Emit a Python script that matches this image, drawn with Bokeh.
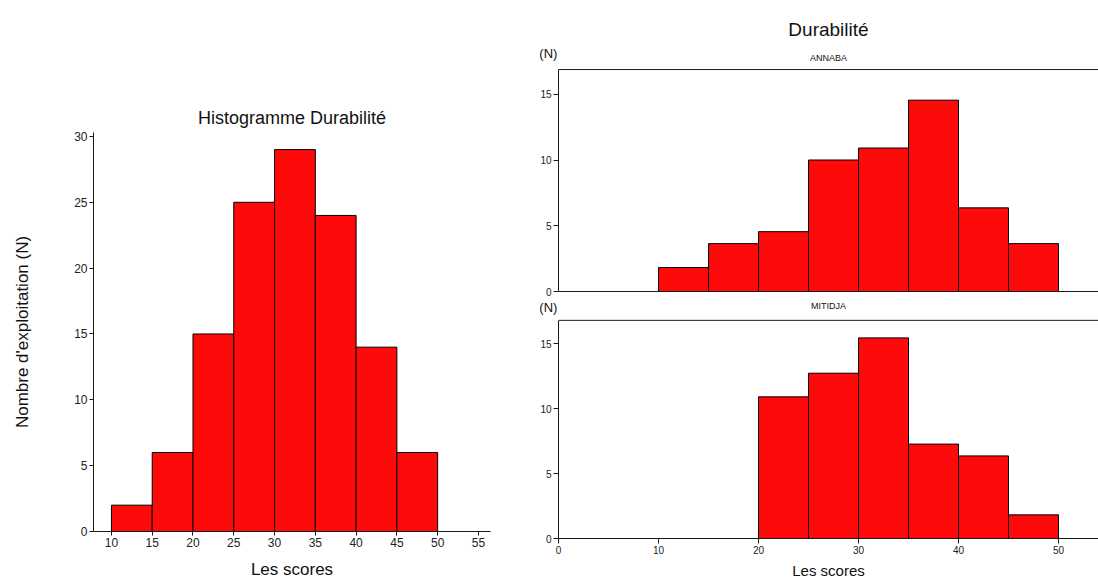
from bokeh.plotting import figure
from bokeh.models import Range1d, FixedTicker, Span, Title, Label, ColumnDataSource
from bokeh.layouts import row, column
from bokeh.embed import file_html
from bokeh.resources import INLINE

# ---- data ----
bin_edges = [10, 15, 20, 25, 30, 35, 40, 45, 50]
total_counts = [2, 6, 15, 25, 29, 24, 14, 6]
annaba_pct = [1.82, 3.64, 4.55, 10.0, 10.91, 14.55, 6.36, 3.64]
mitidja_pct = [0, 0, 10.91, 12.73, 15.45, 7.27, 6.36, 1.82]
left_xticks = [10, 15, 20, 25, 30, 35, 40, 45, 50, 55]
left_yticks = [0, 5, 10, 15, 20, 25, 30]
right_xticks = [0, 10, 20, 30, 40, 50]
right_yticks = [0, 5, 10, 15]

FONT = "Liberation Sans"
RED = "#FF0A0A"
AX = "#1a1a1a"


def bars(p, counts):
    src = ColumnDataSource(dict(left=bin_edges[:-1], right=bin_edges[1:], top=counts,
                                bottom=[0] * len(counts)))
    p.quad(left="left", right="right", top="top", bottom="bottom", source=src,
           fill_color=RED, line_color="black", line_width=1)


def style_axis(ax, size, tick_out):
    ax.axis_line_color = AX
    ax.axis_line_width = 1
    ax.major_tick_line_color = AX
    ax.major_tick_in = 0
    ax.major_tick_out = tick_out
    ax.minor_tick_line_color = None
    ax.major_label_text_font = FONT
    ax.major_label_text_font_size = size
    ax.major_label_text_color = "#222222"
    ax.major_label_standoff = 2
    ax.axis_label_text_font = FONT
    ax.axis_label_text_font_style = "normal"
    ax.axis_label_text_color = "#111111"


def style_title(t, size, standoff):
    t.align = "center"
    t.text_font = FONT
    t.text_font_size = size
    t.text_font_style = "normal"
    t.text_color = "#111111"
    t.standoff = standoff


# ---- left histogram ----
pl = figure(width=518, height=581, output_backend="svg", toolbar_location=None,
            x_range=Range1d(7.8, 56.48), y_range=Range1d(0, 30.3),
            min_border_left=93, min_border_right=28, min_border_top=132, min_border_bottom=48)
pl.outline_line_color = None
pl.grid.visible = False
bars(pl, total_counts)
pl.title.text = "Histogramme Durabilité"
style_title(pl.title, "18px", 10)
pl.xaxis.ticker = FixedTicker(ticks=left_xticks)
pl.yaxis.ticker = FixedTicker(ticks=left_yticks)
style_axis(pl.xaxis[0], "12px", 4)
style_axis(pl.yaxis[0], "12px", 4)
pl.yaxis.axis_label = "Nombre d'exploitation (N)"
pl.yaxis.axis_label_text_font_size = "17px"
pl.yaxis.axis_label_standoff = 39
pl.xaxis.axis_label = "Les scores"
pl.xaxis.axis_label_text_font_size = "17px"
pl.xaxis.axis_label_standoff = 10


def right_panel(height, top_border, bottom_border, y_end, frame_top, counts):
    p = figure(width=580, height=height, output_backend="svg", toolbar_location=None,
               x_range=Range1d(0, 54), y_range=Range1d(0, y_end),
               min_border_left=40, min_border_right=0,
               min_border_top=top_border, min_border_bottom=bottom_border)
    p.outline_line_color = None
    p.grid.visible = False
    bars(p, counts)
    p.yaxis.ticker = FixedTicker(ticks=right_yticks)
    p.yaxis.bounds = (0, frame_top)
    style_axis(p.yaxis[0], "10px", 5)
    p.yaxis.axis_label = "(N)"
    p.yaxis.axis_label_orientation = "horizontal"
    p.yaxis.axis_label_align = "end"
    p.yaxis.axis_label_text_font_size = "13px"
    p.yaxis.axis_label_standoff = -20
    p.add_layout(Span(location=frame_top, dimension="width", line_color=AX, line_width=1))
    return p


# ---- right top (ANNABA) ----
pt = right_panel(300, 53, 9, 18.10, 16.88, annaba_pct)
pt.xaxis.ticker = FixedTicker(ticks=[])
style_axis(pt.xaxis[0], "10px", 0)
pt.add_layout(Label(x=27, y=17.76, text="ANNABA", text_font=FONT, text_font_size="9px",
                    text_align="center", text_baseline="middle", text_color="#111111"))
pt.title.text = "Durabilité"
style_title(pt.title, "19px", 28)

# ---- right bottom (MITIDJA) ----
pb = right_panel(281, 7, 40, 17.79, 16.8, mitidja_pct)
sub = Title(text="MITIDJA")
style_title(sub, "9px", -6)
pb.add_layout(sub, "above")
pb.xaxis.ticker = FixedTicker(ticks=right_xticks)
style_axis(pb.xaxis[0], "10px", 5)
pb.xaxis.axis_label = "Les scores"
pb.xaxis.axis_label_text_font_size = "15px"
pb.xaxis.axis_label_standoff = 5

layout = row(pl, column(pt, pb))
open("out.html", "w").write(file_html(layout, INLINE))
